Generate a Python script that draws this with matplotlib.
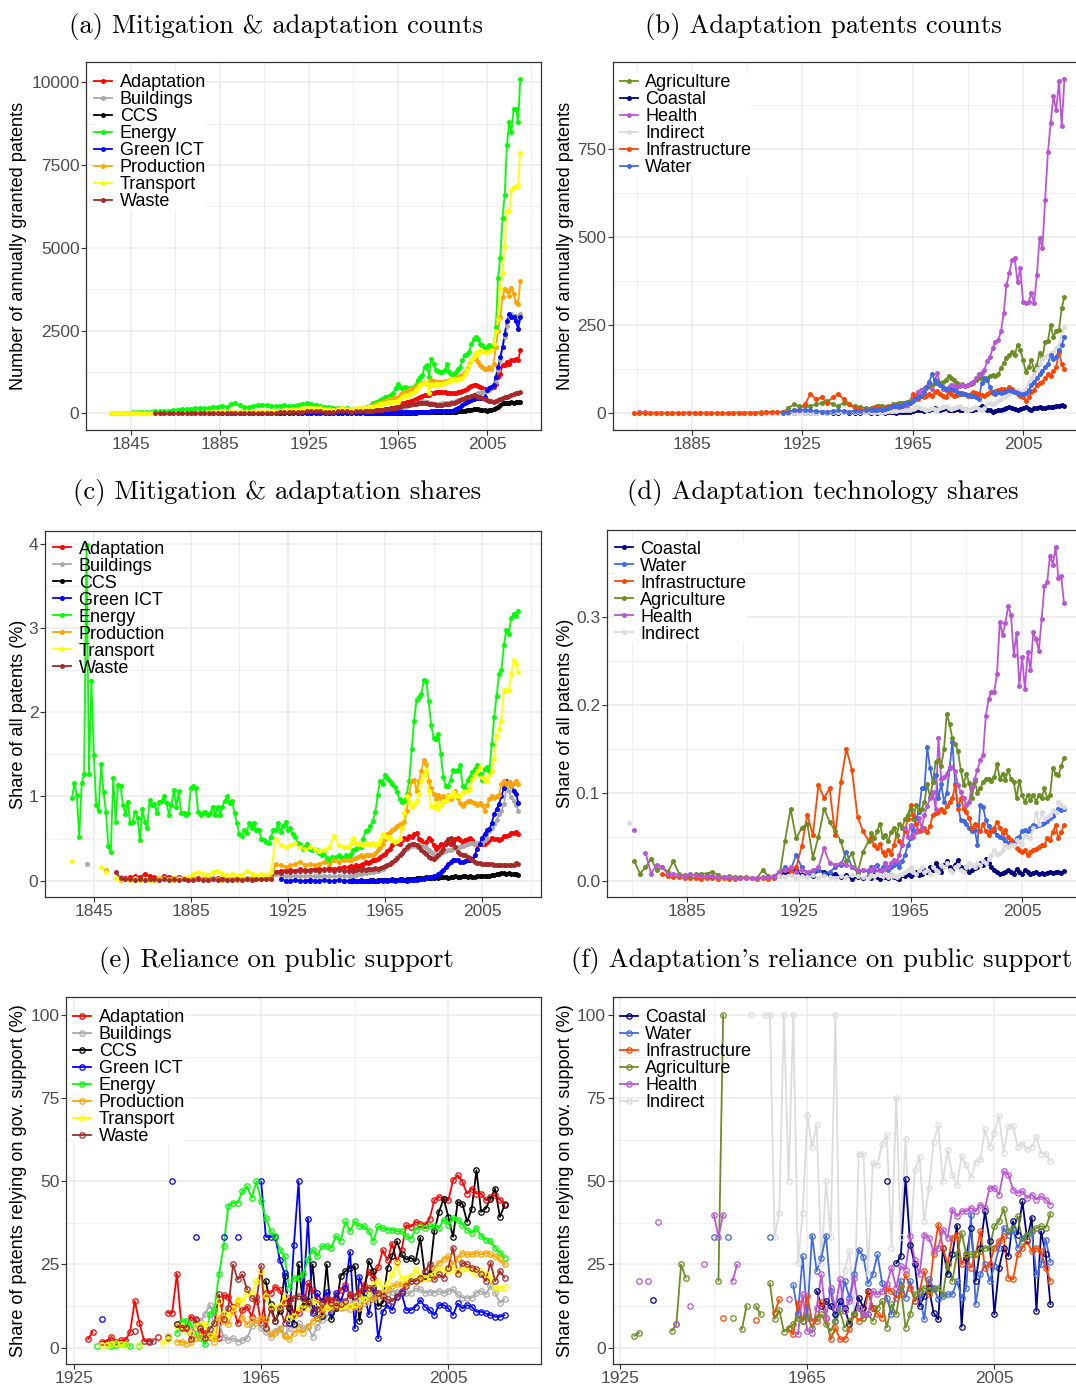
import numpy as np
import matplotlib
matplotlib.use("Agg")
import matplotlib.pyplot as plt
from matplotlib.lines import Line2D

nan = np.nan
plt.rcParams['font.family'] = ['Liberation Sans', 'DejaVu Sans']

# ---------------- year grids ----------------
YEARS_EARLY_2Y = list(range(1836, 1950, 2))   # 1836..1948 every 2 years
YEARS_EARLY_1Y = list(range(1836, 1950))      # 1836..1949 yearly
YEARS_EARLY_B = list(range(1864, 1950, 2))    # 1864..1948 every 2 years
YEARS_LATE = list(range(1950, 2021))          # 1950..2020 yearly
YEARS_SUPPORT = list(range(1928, 2018))       # 1928..2017 yearly

# ---------------- colours ----------------
COL = {
    "Adaptation": "#FF0000", "Buildings": "#A9A9A9", "CCS": "#000000",
    "Energy": "#00FF00", "Green ICT": "#0000FF", "Production": "#FFA500",
    "Transport": "#FFFF00", "Waste": "#A52A2A",
    "Agriculture": "#6B8E23", "Coastal": "#000080", "Health": "#BA55D3",
    "Indirect": "#DCDCDC", "Infrastructure": "#FF4500", "Water": "#4169E1",
}

# ================= (a) counts =================
A_ADAPT_E = [3,3,4,4,5,5,6,6,7,8, 8,9,10,10,11,12,12,13,14,15, 15,16,17,18,18,20,20,22,25,30,
             35,40,45,50,50,55,50,45,40,40, 45,50,50,45,40,45]
A_ADAPT_L = [50,55,60,65,70,80,90,100,110,120, 130,140,150,170,190,200,260,300,320,340,
             350,380,400,420,450,500,520,550,560,560, 600,620,650,640,650,650,640,620,600,600,
             600,610,630,650,680,700,740,800,820,850, 850,830,800,750,720,700,720,750,800,900,
             1100,1200,1450,1450,1550,1500,1600,1600,1650,1600, 1900]
A_BUILD_E = [2,2,3,3,4,4,5,5,6,6, 7,7,8,8,9,10,10,11,12,12, 13,14,15,16,17,18,20,22,24,26,
             30,35,40,40,45,45,40,35,35,35, 40,45,45,40,35,40,45]
A_BUILD_L = [45,50,55,60,65,70,75,80,85,90, 95,100,110,120,130,140,160,180,200,220,
             240,260,280,300,320,340,360,350,330,300, 300,290,280,280,290,300,300,310,320,330,
             350,370,390,400,420,450,480,500,520,550, 580,600,620,640,660,680,700,750,850,950,
             1300,1600,2000,2300,2650,2950,3000,2950,2950,2950, 3000]
A_CCS_E = [1,1,1,1,1,1,2,2,2,2, 2,2,3,3,3,3,3,4,4,4, 4,5,5,5,5,6,6,6,6,7, 7,7,8,8,8]
A_CCS_L = [8,9,9,10,10,11,11,12,12,13, 13,14,14,15,15,16,17,18,19,20,
           21,22,23,24,25,26,27,28,29,30, 31,32,33,34,35,36,38,40,42,45,
           48,50,55,60,70,80,90,100,110,120, 130,120,110,100,90,80,90,110,130,150,
           200,250,300,320,300,310,330,320,330,340, 350]
A_ENERGY_E = [5,8,10,15,20,25,30,35,40,50, 55,60,70,80,100,110,120,130,140,150,
              150,160,170,180,200,220,200,280,300,250, 200,180,220,250,260,240,230,220,230,240,
              220,230,260,280,300,280,250,220,200,180, 170,160,150,160,140,120,130]
A_ENERGY_L = [150,180,200,250,300,330,350,400,420,480, 500,520,560,620,750,880,800,760,780,750,
              720,760,800,850,1000,1100,1150,1400,1450,1100, 1650,1500,1300,1280,1250,1250,1300,1500,1250,1200,
              1200,1250,1350,1400,1600,1750,1800,1850,2100,2250, 2300,2250,2100,2050,1950,2000,2050,2000,2100,2600,
              4100,4700,5900,6600,8100,8800,8500,9200,9200,8800, 10100]
A_GICT_E = [2,3,3,4,4,5,5,5,6,6,7,8,9,10,10]
A_GICT_L = [10,11,12,13,14,15,16,17,18,19, 20,21,22,24,25,26,28,30,32,34,
            36,38,40,42,44,46,48,50,52,54, 56,58,60,62,64,66,70,75,80,85,
            100,120,150,200,250,300,350,380,400,430, 450,460,450,470,500,700,750,780,850,1100,
            1400,1700,2000,2400,2800,3000,2900,2900,2800,2550, 2900]
A_PROD_E = [2,2,3,3,4,5,5,6,7,8, 8,9,10,10,12,12,14,15,15,16, 18,20,20,22,22,25,25,28,30,30,
            32,35,35,38,40,40,45,50,55,60, 80,90,95,100,110,115,120,110,100,100, 110,120,125,130,120,130,150]
A_PROD_L = [160,180,200,220,250,270,300,320,350,380, 400,420,440,450,460,470,540,600,640,680,
            700,740,760,800,850,900,920,950,930,900, 1000,980,950,940,950,950,970,990,1000,1020,
            1050,1080,1100,1120,1150,1250,1350,1500,1600,1700, 1650,1550,1450,1400,1350,1350,1400,1350,1500,2000,
            2500,2900,3500,3750,3700,3550,3800,3600,3350,3300, 4000]
A_TRANS_E = [2,2,3,3,4,5,5,6,6,8, 8,10,10,12,12,14,15,16,18,20, 22,24,25,28,30,32,35,38,40,42,
             45,48,50,55,60,65,70,75,80,90, 110,140,130,160,150,160,170,150,130,120, 110,130,150,140,130,150,160]
A_TRANS_L = [160,170,180,190,200,220,250,270,290,310, 320,330,340,350,360,350,420,500,550,520,
             560,600,650,700,750,850,880,950,900,600, 900,850,880,900,880,900,920,950,980,1000,
             1050,1020,1040,1050,1080,1200,1300,1450,1600,1700, 1850,1800,1900,1880,1850,1850,1880,1900,2100,2500,
             2850,3800,4250,5050,6100,6100,6750,6850,6850,6900, 7850]
A_WASTE_E = [2,2,3,3,4,4,5,5,6,6, 7,7,8,8,9,10,10,11,12,12, 13,14,15,16,17,18,20,22,25,28,
             32,38,45,50,55,60,60,55,50,50, 50,55,60,55,50,55,60]
A_WASTE_L = [65,70,75,80,85,90,95,100,110,120, 130,140,150,160,170,180,200,220,240,250,
             260,270,280,290,300,310,320,310,300,290, 280,270,260,250,250,260,270,280,290,300,
             320,350,380,400,420,450,480,500,520,550, 520,500,480,450,430,400,380,360,350,380,
             400,420,450,480,500,520,550,580,600,620, 650]

# ================= (b) adaptation counts =================
B_AGRI_E = [2,2,2,1,1,1,2,1,1,2, 1,1,1,2,1,1,1,2,2,2, 2,2,3,3,3,3,3,15,25,20,
            22,20,25,30,35,25,20,30,25,20, 18,15]
B_AGRI_L = [15,18,20,22,20,18,20,22,25,25, 28,30,30,32,35,40,50,60,65,70,
            72,78,80,85,88,85,90,95,105,100, 95,85,80,82,78,80,82,85,95,100,
            100,95,100,105,109,105,110,128,142,156, 165,175,165,194,180,151,118,132,151,123,
            137,170,156,203,205,250,215,234,235,298, 331]
B_COAST_E = [1,2,3,2,1,2,3,2,1,2,3,2,1,2,3]
B_COAST_L = [2,3,2,4,3,2,3,4,3,2, 3,4,5,4,5,6,8,10,8,6, 8,10,12,15,10,8,12,15,10,8,
             10,12,8,10,12,10,8,10,12,15, 20,15,10,8,5,6,8,10,12,15, 18,15,12,10,12,15,18,12,10,15,
             15,18,16,15,17,18,19,20,22,24, 22]
B_HEALTH_E = [5,3,2,2,2,1,1,1,2,2, 2,2,1,1,1,1,1,1,1,1, 1,1,1,2,2,2,3,3,3,3,
              3,3,4,4,4,5,5,5,5,5, 5,5]
B_HEALTH_L = [5,5,6,6,7,8,8,9,10,10, 10,12,15,20,30,40,50,60,65,70,
              75,85,70,95,113,80,70,65,75,80, 80,75,78,80,78,80,85,90,100,110,
              115,123,147,161,184,203,208,232,284,364, 397,435,440,371,411,317,312,317,340,312,
              392,498,468,605,740,823,899,860,941,815, 948]
B_INDIR_E = [2,1,1,1,1,1,1,1,1,1, 1,1,1,1,1,1,1,1,1,1, 1,1,1,1,1,1,1,2,2,2,
             2,2,2,2,2,2,3,3,3,3, 3,3,3]
B_INDIR_L = [3,3,4,4,5,5,6,6,7,7, 8,8,9,10,10,12,15,18,15,12, 10,12,15,12,10,15,18,20,15,12,
             15,18,20,15,12,10,12,15,18,12, 10,15,25,30,25,30,35,40,45,50,
             55,60,62,65,60,62,70,85,100,110, 125,140,155,160,165,170,175,185,195,220, 245]
B_INFRA_E = [1,1,1,1,1,1,1,1,1,1, 1,1,1,1,1,1,1,1,2,2, 2,2,2,2,3,3,3,3,5,8,
             10,25,55,40,45,30,45,55,40,25, 15,12,10]
B_INFRA_L = [12,15,18,15,12,15,18,20,22,20, 18,22,25,28,30,55,45,40,50,45,
             48,55,50,60,62,55,50,45,60,55, 50,52,55,58,55,50,55,60,58,55,
             52,50,55,60,58,62,65,70,68,65, 75,70,60,55,50,45,35,45,60,65,
             80,85,90,100,110,105,120,130,175,140, 125]
B_WATER_E = [2,5,8,10,10,8,6,5,5,6,8,6,5,6,7,8]
B_WATER_L = [8,10,10,12,10,12,15,18,20,22, 20,22,25,28,30,35,40,45,50,60,
             75,90,110,95,85,80,75,70,70,70, 65,60,58,55,55,52,50,48,45,40,
             85,100,95,75,60,55,60,58,60,62, 65,62,60,58,55,55,58,65,80,90,
             100,110,120,130,140,165,155,160,180,195, 215]

# ================= (c) shares =================
C_ADAPT_E = [0.03,0.04,0.05,0.04,0.08,0.05,0.04,0.03,0.05,0.04, 0.03,0.04,0.03,0.02,0.03,0.03,0.02,0.03,0.02,0.03,
             0.02,0.03,0.02,0.03,0.02,0.02,0.03,0.02,0.02,0.03, 0.03,0.10,0.12,0.12,0.13,0.12,0.14,0.12,0.13,0.14,
             0.14,0.13,0.15,0.14,0.15,0.16]
C_ADAPT_L = [0.16,0.17,0.16,0.18,0.17,0.18,0.20,0.22,0.21,0.22, 0.24,0.24,0.26,0.28,0.30,0.32,0.35,0.38,0.42,0.46,
             0.45,0.43,0.48,0.51,0.50,0.53,0.52,0.55,0.57,0.50, 0.48,0.44,0.46,0.51,0.48,0.42,0.38,0.40,0.44,0.42,
             0.46,0.48,0.44,0.46,0.50,0.51,0.48,0.44,0.48,0.50, 0.51,0.48,0.44,0.42,0.44,0.43,0.44,0.46,0.48,0.51,
             0.50,0.49,0.48,0.50,0.53,0.53,0.54,0.57,0.57,0.58, 0.56]
C_BUILD_E = [nan,nan,nan,0.20,nan,nan,nan,nan,nan,nan, 0.04,0.02,0.02,0.03,0.02,0.02,0.01,0.02,0.02,0.03,
             0.02,0.02,0.03,0.02,0.02,0.03,0.02,0.02,0.02,0.03, 0.02,0.02,0.03,0.02,0.02,0.02,0.03,0.02,0.02,0.02,
             0.02,0.02,0.08,0.06,0.05,0.06,0.05,0.06,0.05,0.06, 0.05,0.06,0.05,0.06,0.05,0.06,0.06]
C_BUILD_L = [0.06,0.06,0.07,0.07,0.08,0.08,0.09,0.09,0.10,0.10, 0.10,0.11,0.12,0.13,0.14,0.16,0.18,0.20,0.22,0.25,
             0.28,0.30,0.33,0.36,0.38,0.40,0.41,0.42,0.40,0.42, 0.42,0.41,0.40,0.37,0.34,0.32,0.31,0.32,0.33,0.34,
             0.35,0.36,0.37,0.38,0.39,0.40,0.40,0.41,0.42,0.44, 0.45,0.45,0.44,0.45,0.44,0.45,0.48,0.51,0.59,0.63,
             0.67,0.72,0.79,0.83,0.91,1.10,1.07,0.99,0.95,0.90, 0.83]
C_CCS_E = [0.0,nan,nan,nan,nan,nan,nan,0.0]
C_CCS_L = [nan,nan,0.00,nan,nan,0.00,nan,0.00,0.00,0.00, 0.01,0.00,0.01,0.01,0.01,0.01,0.01,0.01,0.02,0.01,
           0.01,0.02,0.02,0.01,0.02,0.02,0.02,0.02,0.03,0.03, 0.03,0.03,0.04,0.03,0.03,0.03,0.04,0.03,0.04,0.04,
           0.04,0.03,0.04,0.04,0.05,0.04,0.04,0.05,0.05,0.04, 0.05,0.04,0.04,0.05,0.05,0.06,0.06,0.05,0.06,0.07,
           0.07,0.08,0.08,0.09,0.09,0.08,0.09,0.08,0.08,0.08, 0.07]
C_GICT_E = [0.02,0.00,0.00,0.01,0.00,0.00,0.01,0.00,0.00,0.01,0.00,0.00,0.01,0.00]
C_GICT_L = [0.00,0.00,0.01,0.00,0.00,0.01,0.00,0.00,0.00,0.01, 0.00,0.00,0.00,0.01,0.00,0.01,0.00,0.01,0.01,0.00,
            0.01,0.01,0.01,0.01,0.00,0.01,0.01,0.01,0.01,0.02, 0.02,0.02,0.03,0.04,0.04,0.06,0.06,0.08,0.10,0.13,
            0.16,0.20,0.22,0.24,0.25,0.24,0.22,0.22,0.23,0.24, 0.24,0.26,0.30,0.38,0.44,0.51,0.55,0.60,0.61,0.69,
            0.79,0.85,0.91,1.01,1.10,1.19,1.17,1.13,1.07,1.03, 0.92]
C_ENERGY_E = [0.98,1.16,1.02,0.52,1.16,1.27,3.99,1.27,2.37,1.49, 0.90,0.83,1.39,1.05,0.82,0.41,0.34,1.22,0.70,1.14,
              1.13,0.90,0.79,0.94,0.68,0.70,0.82,0.75,0.48,0.85, 0.70,0.62,0.96,0.90,0.91,0.80,0.93,0.95,1.00,0.92,
              0.78,0.90,1.08,0.88,1.06,0.80,0.80,0.78,0.80,1.10, 1.13,1.10,0.82,0.78,0.80,0.82,0.78,0.80,0.88,0.78,
              0.88,0.78,0.88,0.95,1.00,0.92,0.95,0.80,0.68,0.55, 0.53,0.60,0.57,0.68,0.63,0.68,0.60,0.60,0.50,0.48,
              0.46,0.45,0.52,0.60,0.60,0.68,0.58,0.65,0.70,0.60, 0.62,0.55,0.52,0.45,0.43,0.38,0.40,0.44,0.38,0.36,
              0.38,0.36,0.33,0.30,0.35,0.27,0.22,0.28,0.25,0.28, 0.30,0.28,0.27,0.30]
C_ENERGY_L = [0.28,0.32,0.36,0.38,0.42,0.40,0.50,0.59,0.60,0.65, 0.71,0.81,1.02,1.19,1.15,1.25,1.22,1.19,1.15,1.11,
              1.05,0.97,0.93,0.95,1.03,1.19,1.56,1.90,2.15,2.18, 2.22,2.38,2.37,2.14,1.85,1.70,1.68,1.74,1.50,1.23,
              1.13,1.13,1.20,1.31,1.30,1.31,1.37,1.13,1.09,1.20, 1.23,1.29,1.33,1.37,1.27,1.20,1.33,1.35,1.30,1.62,
              1.94,2.20,2.45,2.50,2.80,2.98,2.93,3.12,3.17,3.15, 3.20]
C_PROD_E = [nan,nan,nan,nan,nan,nan,nan,0.13,nan,nan, 0.01,0.02,0.01,0.02,0.01,0.02,0.02,0.01,0.02,0.02,
            0.02,0.01,0.02,0.02,0.01,0.02,0.02,0.02,0.01,0.02, 0.02,0.01,0.02,0.02,0.01,0.02,0.02,0.01,0.02,0.02,
            0.02,0.03,0.20,0.18,0.16,0.18,0.20,0.22,0.18,0.20, 0.18,0.20,0.22,0.20,0.24,0.22,0.24]
C_PROD_L = [0.24,0.25,0.26,0.27,0.28,0.30,0.28,0.30,0.30,0.30, 0.30,0.33,0.36,0.40,0.44,0.50,0.55,0.58,0.60,0.63,
            0.65,0.67,0.62,0.70,0.83,1.03,1.19,1.20,1.07,1.18, 1.30,1.43,1.39,1.19,1.10,1.03,0.97,1.02,0.97,1.00,
            0.95,1.02,0.97,1.00,1.07,0.98,0.92,0.89,0.92,0.95, 0.95,0.93,0.92,0.90,0.92,0.90,0.83,0.90,0.97,1.00,
            0.98,1.00,1.02,1.15,1.19,1.15,1.17,1.13,1.16,1.18, 1.15]
C_TRANS_E = [0.23,nan,nan,nan,nan,nan,0.16,0.10,nan,0.03, 0.02,0.02,0.01,0.02,0.01,0.02,0.01,0.02,0.03,0.02,
             0.02,0.03,0.02,0.03,0.04,0.08,0.10,0.08,0.07,0.10, 0.12,0.08,0.07,0.08,0.06,0.07,0.12,0.08,0.06,0.08,
             0.07,0.10,0.50,0.42,0.40,0.42,0.45,0.40,0.38,0.40, 0.38,0.35,0.36,0.40,0.53,0.42,0.40]
C_TRANS_L = [0.40,0.45,0.51,0.45,0.44,0.44,0.42,0.45,0.43,0.44, 0.45,0.42,0.44,0.48,0.55,0.53,0.52,0.51,0.48,0.46,
             0.47,0.50,0.63,0.80,1.01,0.95,0.87,0.91,0.95,1.03, 1.19,1.25,1.31,1.07,0.89,0.87,0.92,0.85,0.90,0.95,
             0.95,1.01,1.01,1.05,1.00,1.02,1.00,1.05,1.07,1.07, 1.10,1.21,1.25,1.30,1.35,1.23,1.20,1.19,1.25,1.30,
             1.44,1.72,1.80,1.90,2.26,2.25,2.26,2.45,2.62,2.58, 2.48]
C_WASTE_E = [nan,nan,nan,nan,nan,nan,nan,nan,nan,0.10, 0.03,0.02,0.02,0.01,0.02,0.01,0.02,0.02,0.01,0.02,
             0.01,0.02,0.01,0.02,0.01,0.01,0.02,0.01,0.01,0.02, 0.01,0.02,0.01,0.01,0.02,0.01,0.02,0.01,0.02,0.02,
             0.02,0.02,0.10,0.09,0.11,0.10,0.12,0.12,0.13,0.12, 0.13,0.12,0.14,0.13,0.12,0.13,0.12]
C_WASTE_L = [0.12,0.13,0.12,0.13,0.14,0.13,0.14,0.13,0.14,0.14, 0.14,0.15,0.14,0.15,0.16,0.17,0.18,0.20,0.22,0.25,
             0.27,0.30,0.33,0.36,0.40,0.42,0.43,0.44,0.42,0.40, 0.37,0.34,0.32,0.28,0.27,0.26,0.28,0.30,0.34,0.38,
             0.44,0.50,0.51,0.45,0.40,0.34,0.32,0.31,0.30,0.28, 0.27,0.24,0.22,0.21,0.21,0.20,0.20,0.20,0.20,0.20,
             0.19,0.19,0.19,0.18,0.19,0.18,0.18,0.18,0.19,0.21, 0.20]

# ================= (d) adaptation shares =================
D_AGRI_E = [0.022,0.008,0.015,0.025,0.012,0.015,0.010,0.022,0.008,0.006,
            0.005,0.007,0.008,0.008,0.010,0.006,0.004,0.005,0.004,0.004,
            0.003,0.003,0.003,0.012,0.005,0.004,0.005,0.045,0.082,0.048,
            0.060,0.065,0.026,0.050,0.082,0.067,0.056,0.045,0.022,0.031, 0.009,0.033]
D_AGRI_L = [0.045,0.054,0.048,0.056,0.065,0.050,0.052,0.045,0.055,0.060,
            0.052,0.065,0.060,0.070,0.075,0.082,0.070,0.086,0.080,0.082,
            0.090,0.110,0.095,0.112,0.135,0.137,0.130,0.150,0.190,0.178,
            0.162,0.156,0.148,0.126,0.109,0.122,0.111,0.094,0.114,0.100,
            0.105,0.112,0.116,0.116,0.114,0.118,0.133,0.116,0.122,0.115,
            0.126,0.116,0.112,0.094,0.114,0.097,0.090,0.097,0.092,0.097,
            0.090,0.097,0.094,0.105,0.094,0.097,0.128,0.122,0.120,0.130, 0.140]
D_COAST_E = [0.005,0.010,0.008,0.012,0.006,0.008,0.005,0.012,0.010,0.006,0.008,0.004,0.006,0.002,0.004,0.003]
D_COAST_L = [0.005,0.003,0.006,0.004,0.002,0.005,0.004,0.003,0.006,0.004,
             0.003,0.002,0.006,0.005,0.007,0.005,0.008,0.010,0.006,0.008,
             0.012,0.010,0.015,0.012,0.020,0.015,0.010,0.018,0.022,0.015,
             0.012,0.018,0.024,0.015,0.012,0.016,0.010,0.012,0.014,0.016,
             0.020,0.018,0.025,0.020,0.015,0.012,0.010,0.008,0.009,0.010,
             0.012,0.010,0.008,0.013,0.010,0.008,0.012,0.010,0.008,0.009,
             0.010,0.008,0.009,0.008,0.009,0.010,0.009,0.010,0.010,0.009, 0.011]
D_HEALTH_E = [0.058,nan,0.032,0.008,0.018,0.015,0.008,0.008,0.006,0.005,
              0.008,0.006,0.005,0.005,0.005,0.004,0.004,0.004,0.003,0.003,
              0.003,0.003,0.003,0.004,0.004,0.005,0.010,0.012,0.015,0.010,
              0.012,0.010,0.012,0.015,0.037,0.020,0.018,0.020,0.018,0.015, 0.012,0.012]
D_HEALTH_L = [0.012,0.012,0.015,0.010,0.012,0.012,0.020,0.015,0.020,0.024,
              0.022,0.029,0.041,0.060,0.050,0.063,0.050,0.055,0.071,0.060,
              0.075,0.085,0.094,0.101,0.082,0.162,0.116,0.118,0.122,0.129,
              0.129,0.125,0.109,0.101,0.094,0.086,0.090,0.107,0.116,0.126,
              0.137,0.143,0.188,0.207,0.215,0.215,0.235,0.295,0.280,0.293,
              0.313,0.303,0.257,0.282,0.222,0.255,0.218,0.260,0.240,0.283,
              0.275,0.262,0.298,0.335,0.340,0.370,0.360,0.380,0.345,0.347, 0.316]
D_INDIR_E = [0.066,nan,nan,nan,nan,nan,nan,nan,nan,nan,
             nan,nan,nan,nan,nan,nan,nan,nan,nan,nan,
             nan,nan,nan,nan,nan,nan,nan,0.005,0.004,0.006,
             0.003,0.005,0.004,0.006,0.003,0.005,0.004,0.003,0.005,0.004, 0.006,0.005,0.004]
D_INDIR_L = [0.004,0.006,0.005,0.008,0.006,0.005,0.007,0.004,0.006,0.005,
             0.004,0.006,0.008,0.010,0.012,0.015,0.010,0.008,0.012,0.015,
             0.010,0.012,0.008,0.015,0.012,0.010,0.018,0.015,0.020,0.012,
             0.010,0.015,0.018,0.012,0.010,0.015,0.020,0.018,0.015,0.020,
             0.018,0.022,0.020,0.025,0.029,0.035,0.030,0.032,0.035,0.041,
             0.038,0.041,0.040,0.046,0.044,0.042,0.052,0.050,0.048,0.060,
             0.077,0.065,0.078,0.070,0.072,0.075,0.080,0.078,0.090,0.086, 0.084]
D_INFRA_E = [0.008,0.005,0.004,0.004,0.003,0.003,0.003,0.002,0.003,0.003,
             0.002,0.003,0.002,0.002,0.003,0.004,0.003,0.002,0.003,0.002,
             0.003,0.008,0.012,0.010,0.015,0.039,0.075,0.052,0.109,0.094,
             0.105,0.052,0.112,0.150,0.126,0.073,0.056]
D_INFRA_L = [0.045,0.048,0.040,0.037,0.042,0.033,0.029,0.035,0.030,0.040,
             0.052,0.045,0.040,0.056,0.070,0.086,0.075,0.065,0.056,0.058,
             0.060,0.055,0.062,0.075,0.077,0.078,0.082,0.078,0.085,0.090,
             0.094,0.109,0.082,0.094,0.082,0.078,0.071,0.060,0.064,0.063,
             0.056,0.064,0.056,0.052,0.056,0.060,0.067,0.060,0.054,0.058,
             0.050,0.046,0.041,0.037,0.035,0.033,0.035,0.029,0.033,0.035,
             0.036,0.038,0.041,0.040,0.048,0.046,0.055,0.063,0.048,0.055, 0.063]
D_WATER_E = [0.005,0.010,0.015,0.012,0.029,0.015,0.008,0.010,0.012,0.008,0.010,0.015,0.018,0.033,0.015,0.010,0.012]
D_WATER_L = [0.010,0.015,0.012,0.018,0.010,0.015,0.020,0.012,0.015,0.018,
             0.020,0.015,0.022,0.029,0.040,0.048,0.058,0.071,0.078,0.105,
             0.105,0.152,0.128,0.112,0.120,0.094,0.110,0.090,0.100,0.128,
             0.158,0.110,0.086,0.069,0.068,0.065,0.060,0.056,0.058,0.041,
             0.086,0.084,0.069,0.062,0.058,0.056,0.052,0.050,0.048,0.045,
             0.043,0.042,0.044,0.048,0.050,0.056,0.058,0.057,0.060,0.063,
             0.062,0.063,0.064,0.066,0.068,0.071,0.074,0.078,0.082,0.080, 0.082]

# ================= (e) reliance on public support (1928-2017) =================
E_ADAPT = [2.5,4.8,nan,1.8,1.8,3.2,1.8,2.2,2.2,4.7, 14.0,7.5,2.0,2.0,nan,3.2,nan,10.5,10.5,22.2,
           6.3,6.3,9.3,8.3,5.3,4.5,3.3,2.8,3.0,15.8, 15.3,12.3,7.3,11.3,12.3,9.3,15.3,7.3,16.3,16.3,
           18.3,17.3,13.3,14.8,10.3,10.3,12.3,19.3,17.3,14.8, 11.3,14.3,14.3,15.3,17.3,18.8,15.8,13.8,16.3,18.8,
           22.8,20.8,24.3,29.3,26.3,31.3,25.8,29.3,36.8,36.3, 37.8,37.3,36.8,38.8,44.3,45.3,44.8,44.3,50.3,51.8,
           49.8,46.3,47.8,46.3,46.3,44.3,45.3,45.8,44.5,43.3]
E_BUILD = [5.0,6.0,8.0,10.0,12.8,9.3,7.3,3.3,2.3,2.8, 1.8,2.3,2.8,6.5,8.3,6.0,4.8,3.3,5.0,6.0,
           3.8,5.8,6.8,7.3,5.8,6.3,3.3,6.3,8.3,9.3, 11.3,11.8,12.3,12.3,13.3,13.8,14.3,14.8,14.8,15.3,
           16.3,16.8,16.3,16.8,16.8,16.8,16.3,16.5,17.8,17.5, 16.5,16.8,16.5,17.0,16.5,17.0,17.5,16.0,15.0,15.0,
           15.0,16.5,17.0,16.0,18.5,16.5,13.5,14.5]
E_CCS = [3.0,nan,7.0, nan,nan,nan,nan,nan,nan,nan,nan,nan,nan,
         nan,nan,nan,nan,nan,nan,nan,nan,20.0,13.0,
         8.0,11.0,21.5,12.0,7.2,25.0,12.5,14.0,25.0,9.0, 9.5,25.0,8.5,12.0,21.5,23.0,24.0,24.5,8.0,16.5,
         26.0,23.0,12.5,13.5,24.0,27.5,32.0,28.0,26.5,27.0, 26.0,33.0,21.5,22.0,35.0,40.8,44.8,39.3,33.3,43.8,
         43.3,37.8,41.8,53.3,40.8,41.8,44.8,47.8,39.3,42.8]
E_GICT = [nan,nan,nan,8.5,nan,nan,nan,nan,nan,nan, nan,nan,nan,nan,nan,nan,nan,nan,50.0,nan,
          nan,nan,nan,33.3,nan,nan,nan,nan,nan,33.3, nan,nan,33.3,nan,nan,nan,nan,50.0,33.3,33.3,
          33.3,26.3,22.5,7.3,30.8,50.0,15.3,38.8,10.3,16.3, 14.0,16.7,10.5,16.5,14.0,18.0,28.8,5.8,21.3,16.3,
          10.0,18.0,2.8,10.8,12.8,11.3,15.3,16.3,11.3,11.3, 12.3,14.3,12.3,11.3,9.8,12.8,12.8,11.8,9.8,13.3,
          11.8,12.8,12.3,10.8,10.8,10.3,9.8,9.3,9.3,9.8]
E_ENERGY = [nan,nan,0.5,nan,0.8,0.5,0.8,1.0,1.0,0.5, nan,0.5,nan,nan,nan,nan,nan,nan,nan,4.5,
            8.0,8.0,7.0,4.0,3.0,1.0,10.0,11.3,22.0,30.5, 42.5,43.5,43.5,47.0,48.5,45.0,50.0,44.0,39.0,35.0,
            33.5,29.5,27.5,18.0,21.0,21.0,22.0,26.5,29.5,27.5, 30.5,30.5,30.0,33.5,32.0,38.0,35.0,38.0,36.5,36.5,
            35.0,32.0,36.5,36.0,35.5,35.5,35.0,35.0,33.5,32.8, 35.5,36.5,36.0,36.5,36.5,36.0,38.5,37.0,39.0,38.5,
            37.0,35.5,34.5,36.0,33.5,32.5,32.0,30.0,28.5,27.0]
E_PROD = [3.5,nan,1.8, 1.8,1.2,1.8,3.0,3.5,3.0,4.0,1.8,9.0,8.0,
          7.0,11.0,14.0,9.0,7.0,8.5,7.5,9.0,8.5,4.0, 4.5,5.5,3.5,2.5,4.5,5.5,4.5,6.5,8.0,9.0,
          10.5,12.5,12.0,12.5,12.0,13.0,11.5,12.5,12.0,13.5, 14.0,14.5,15.5,16.5,17.5,18.5,19.0,19.0,19.5,20.0,
          20.0,20.5,21.0,21.0,24.0,25.5,26.5,27.5,25.0,27.0, 28.5,28.0,28.0,28.5,28.0,28.5,28.0,27.5,26.5,25.0]
E_TRANS = [nan,nan,nan,0.8,0.8,1.0,1.5,1.2,0.8,nan, nan,0.8,nan,nan,nan,nan,1.5,2.5,nan,6.5,
           6.5,5.0,4.5,6.5,7.0,7.0,3.5,3.0,14.0,10.5, 9.5,12.0,14.5,14.0,16.5,16.0,20.0,23.0,15.5,12.5,
           12.0,12.5,15.5,9.0,9.5,12.0,13.0,12.0,14.0,13.5, 12.5,12.0,12.5,13.0,12.5,13.0,12.5,13.0,15.5,14.5,
           16.5,19.0,20.0,18.0,19.5,22.0,25.5,20.5,21.0,21.5, 23.5,21.5,21.0,21.5,22.0,23.5,23.5,23.0,23.5,23.0,
           23.5,24.0,23.0,22.5,23.0,22.0,20.5,18.0,18.0,18.2]
E_WASTE = [5.0,nan,nan,1.8,2.0,nan,nan,nan,nan,7.0, 6.0,6.0,2.5,8.5,6.0,3.0,5.5,7.5,16.0,8.5,
           12.0,25.0,20.5,22.0,17.5,15.0,14.0,24.5,6.0,11.5, 8.0,12.0,7.5,12.5,15.0,15.5,15.0,13.5,11.0,11.5,
           13.5,15.0,13.5,12.5,13.0,14.0,16.0,15.5,17.0,17.5, 18.0,17.5,16.5,15.5,14.5,14.0,15.5,17.0,18.5,20.0,
           20.0,21.0,23.0,25.0,20.5,22.0,21.0,24.0,30.0,22.0, 25.5,25.0,24.0,23.5,22.0,20.0,25.5,20.0,23.0,21.0]

# ================= (f) adaptation reliance (1928-2017) =================
F_COAST = [nan,nan,nan,nan,14.3,nan,nan,nan,nan,nan, nan,nan,nan,nan,nan,nan,nan,nan,nan,nan,
           nan,nan,nan,nan,nan,nan,nan,nan,nan,nan, nan,nan,nan,nan,nan,nan,nan,nan,nan,17.0,
           12.5,14.0,12.5,10.0,14.0,12.0,7.0,10.0,15.0,12.0, 17.0,12.0,nan,nan,50.0,nan,25.3,27.5,50.7,31.0,
           25.0,12.5,15.5,18.0,10.5,8.5,30.0,22.0,28.0,36.7, 6.3,27.0,36.0,20.0,30.0,41.0,32.0,10.0,24.0,30.0,
           27.5,38.0,34.0,44.0,32.5,39.0,11.0,35.0,28.0,13.0]
F_WATER = [nan,nan,nan,nan,nan,nan,nan,nan,nan,nan, nan,nan,nan,nan,nan,nan,nan,33.4,nan,nan,
           33.4,nan,nan,nan,nan,nan,nan,nan,nan,33.4, nan,nan,nan,nan,18.8,10.0,27.5,9.0,33.7,23.0,
           27.0,33.7,17.0,8.0,12.0,20.0,15.0,22.0,29.5,27.3, 19.3,22.0,28.0,19.3,15.0,10.0,16.0,20.0,15.0,20.0,
           14.0,16.0,8.5,20.5,18.0,14.7,15.5,16.0,16.0,20.0, 15.0,18.0,40.0,13.0,22.0,25.0,20.0,24.5,30.0,36.0,
           34.0,35.5,30.0,33.0,34.0,35.0,22.0,25.0,32.5,25.7]
F_INFRA = [nan,nan,nan,nan,nan,nan,nan,nan,nan,nan, nan,nan,nan,nan,nan,nan,nan,nan,nan,9.0,
           nan,nan,nan,nan,nan,nan,8.2,nan,nan,nan, 10.5,14.5,nan,5.5,4.0,13.5,8.0,15.5,8.0,8.0,
           13.7,9.0,2.5,6.0,2.5,2.5,5.5,10.0,8.0,9.0, 16.7,12.0,10.0,9.0,18.0,17.0,15.0,16.0,22.0,18.0,
           14.0,17.0,23.0,16.0,28.0,37.0,30.0,25.0,33.0,34.0, 25.0,28.0,24.0,28.0,35.0,24.0,25.0,30.0,32.0,33.5,
           21.0,20.5,28.0,30.0,32.0,29.0,30.0,29.0,24.0,20.0]
F_AGRI = [3.5,4.5,nan,nan,nan,nan,nan,nan,5.0,7.0, 25.0,21.0,nan,nan,nan,nan,nan,nan,20.0,100.0,
          nan,9.0,nan,5.5,12.5,nan,12.5,10.0,nan,19.3, 8.7,11.3,4.8,6.0,7.0,9.0,8.0,9.5,6.0,9.0,
          10.0,7.0,5.0,8.0,11.0,6.0,8.0,10.0,12.0,9.0, 10.0,8.0,12.0,14.0,6.0,13.0,10.0,18.5,6.0,10.0,
          16.0,17.0,18.0,17.0,17.5,18.0,16.0,25.0,20.0,28.0, 34.5,28.0,28.0,28.5,29.0,30.0,30.0,36.5,38.0,41.7,
          35.0,36.0,39.5,32.0,34.0,35.0,36.0,36.5,36.0,40.3]
F_HEALTH = [nan,20.0,nan,20.0,nan,37.7,nan,nan,nan,7.0, nan,nan,12.5,nan,nan,25.0,nan,40.0,33.4,40.0,
            nan,20.0,25.0,nan,nan,nan,nan,nan,nan,nan, nan,nan,nan,14.5,nan,4.0,16.0,5.0,4.5,12.0,
            22.0,9.0,18.0,12.0,20.5,11.0,14.0,21.0,12.0,10.0, 10.0,17.0,16.0,17.0,19.0,24.0,18.0,24.5,23.4,33.5,
            26.4,22.0,34.0,33.0,29.0,30.0,35.5,33.0,41.5,39.5, 41.0,41.0,42.0,41.0,43.0,42.0,48.0,48.0,46.0,53.0,
            52.0,47.5,46.5,47.0,45.0,46.0,44.5,45.5,44.5,43.0]
F_INDIR = [100.0,nan,nan,100.0,100.0,33.4,40.4,100.0,50.0,100.0,
           25.4,40.4,70.0,60.3,66.8,25.4,50.0,33.4,100.0,12.0,
           23.4,29.0,10.0,58.3,58.3,22.4,55.5,54.8,61.3,63.8,
           30.0,75.0,33.4,62.8,31.0,53.3,57.3,38.0,47.9,61.8,
           66.8,50.0,59.3,52.0,48.9,57.6,54.8,51.1,55.8,56.6,
           65.6,60.2,64.6,69.5,58.6,66.6,66.6,60.3,61.3,59.6,
           60.3,63.3,58.3,58.3,56.0]


# ---------------- helpers ----------------
def joined(early_grid, early, late):
    grid = list(early_grid) + YEARS_LATE
    y = list(early) + list(late)
    y = y[-len(grid):]
    return grid[len(grid) - len(y):], y


def support(vals):
    return YEARS_SUPPORT[len(YEARS_SUPPORT) - len(vals):], list(vals)


S_A = [
    ("Adaptation",) + joined(YEARS_EARLY_2Y, A_ADAPT_E, A_ADAPT_L),
    ("Buildings",) + joined(YEARS_EARLY_2Y, A_BUILD_E, A_BUILD_L),
    ("CCS",) + joined(YEARS_EARLY_2Y, A_CCS_E, A_CCS_L),
    ("Energy",) + joined(YEARS_EARLY_2Y, A_ENERGY_E, A_ENERGY_L),
    ("Green ICT",) + joined(YEARS_EARLY_2Y, A_GICT_E, A_GICT_L),
    ("Production",) + joined(YEARS_EARLY_2Y, A_PROD_E, A_PROD_L),
    ("Transport",) + joined(YEARS_EARLY_2Y, A_TRANS_E, A_TRANS_L),
    ("Waste",) + joined(YEARS_EARLY_2Y, A_WASTE_E, A_WASTE_L),
]
S_B = [
    ("Agriculture",) + joined(YEARS_EARLY_B, B_AGRI_E, B_AGRI_L),
    ("Coastal",) + joined(YEARS_EARLY_B, B_COAST_E, B_COAST_L),
    ("Health",) + joined(YEARS_EARLY_B, B_HEALTH_E, B_HEALTH_L),
    ("Indirect",) + joined(YEARS_EARLY_B, B_INDIR_E, B_INDIR_L),
    ("Infrastructure",) + joined(YEARS_EARLY_B, B_INFRA_E, B_INFRA_L),
    ("Water",) + joined(YEARS_EARLY_B, B_WATER_E, B_WATER_L),
]
S_C = [
    ("Adaptation",) + joined(YEARS_EARLY_2Y, C_ADAPT_E, C_ADAPT_L),
    ("Buildings",) + joined(YEARS_EARLY_2Y, C_BUILD_E, C_BUILD_L),
    ("CCS",) + joined(YEARS_EARLY_2Y, C_CCS_E, C_CCS_L),
    ("Green ICT",) + joined(YEARS_EARLY_2Y, C_GICT_E, C_GICT_L),
    ("Energy",) + joined(YEARS_EARLY_1Y, C_ENERGY_E, C_ENERGY_L),
    ("Production",) + joined(YEARS_EARLY_2Y, C_PROD_E, C_PROD_L),
    ("Transport",) + joined(YEARS_EARLY_2Y, C_TRANS_E, C_TRANS_L),
    ("Waste",) + joined(YEARS_EARLY_2Y, C_WASTE_E, C_WASTE_L),
]
S_D = [
    ("Coastal",) + joined(YEARS_EARLY_B, D_COAST_E, D_COAST_L),
    ("Water",) + joined(YEARS_EARLY_B, D_WATER_E, D_WATER_L),
    ("Infrastructure",) + joined(YEARS_EARLY_B, D_INFRA_E, D_INFRA_L),
    ("Agriculture",) + joined(YEARS_EARLY_B, D_AGRI_E, D_AGRI_L),
    ("Health",) + joined(YEARS_EARLY_B, D_HEALTH_E, D_HEALTH_L),
    ("Indirect",) + joined(YEARS_EARLY_B, D_INDIR_E, D_INDIR_L),
]
S_E = [
    ("Adaptation",) + support(E_ADAPT),
    ("Buildings",) + support(E_BUILD),
    ("CCS",) + support(E_CCS),
    ("Green ICT",) + support(E_GICT),
    ("Energy",) + support(E_ENERGY),
    ("Production",) + support(E_PROD),
    ("Transport",) + support(E_TRANS),
    ("Waste",) + support(E_WASTE),
]
S_F = [
    ("Coastal",) + support(F_COAST),
    ("Water",) + support(F_WATER),
    ("Infrastructure",) + support(F_INFRA),
    ("Agriculture",) + support(F_AGRI),
    ("Health",) + support(F_HEALTH),
    ("Indirect",) + support(F_INDIR),
]

# ---------------- figure ----------------
W, H = 1076, 1385
fig = plt.figure(figsize=(W / 100, H / 100), dpi=100)
fig.patch.set_facecolor("white")
renderer = fig.canvas.get_renderer()

LW = 1.3
MS = 3.6
MS_H = 3.9

TICK_FS = 12.5
LEG_FS = 13


def fit_size(text, family, target_px, base=20.0):
    t = fig.text(0, 0, text, fontsize=base, family=family)
    w = t.get_window_extent(renderer=renderer).width
    t.remove()
    return base * target_px / w


TITLES = {
    "a": ("(a) Mitigation & adaptation counts", 276, 26, 415.7),
    "b": ("(b) Adaptation patents counts", 823, 26, 354.6),
    "c": ("(c) Mitigation & adaptation shares", 277, 493, 410.5),
    "d": ("(d) Adaptation technology shares", 823, 493, 390.5),
    "e": ("(e) Reliance on public support", 276, 961, 355.4),
    "f": ("(f) Adaptation's reliance on public support", 822, 961, 500.0),
}
title_fs = float(np.mean([fit_size(t, "cmr10", w) for (t, _, _, w) in TITLES.values()]))

YLABELS = {
    "a": ("Number of annually granted patents", 19),
    "b": ("Number of annually granted patents", 566),
    "c": ("Share of all patents (%)", 19),
    "d": ("Share of all patents (%)", 565),
    "e": ("Share of patents relying on gov. support (%)", 19),
    "f": ("Share of patents relying on gov. support (%)", 566),
}
ylab_fs = float(np.mean([
    fit_size("Number of annually granted patents", "Liberation Sans", 286.7),
    fit_size("Share of all patents (%)", "Liberation Sans", 188.3),
    fit_size("Share of patents relying on gov. support (%)", "Liberation Sans", 355.0),
]))

GEOM = {
    "a": (86.4, 540.8, 62.3, 430.0),
    "b": (612.8, 1086.0, 62.3, 430.0),
    "c": (45.3, 540.8, 531.0, 897.3),
    "d": (607.0, 1086.0, 530.3, 897.3),
    "e": (66.2, 540.8, 997.3, 1364.3),
    "f": (612.8, 1086.0, 997.3, 1364.3),
}
XLIM = {"a": (1826.8, 2029.2), "b": (1856.4, 2027.8), "c": (1826.8, 2029.2),
        "d": (1856.2, 2027.9), "e": (1923.35, 2024.75), "f": (1923.4, 2024.6)}
YLIM = {"a": (-504, 10604), "b": (-47.4, 995.4), "c": (-0.198, 4.155),
        "d": (-0.019, 0.399), "e": (-5.0, 105.3), "f": (-5.0, 105.3)}
XT = {"a": ([1845, 1885, 1925, 1965, 2005], [1825, 1865, 1905, 1945, 1985, 2025]),
      "c": ([1845, 1885, 1925, 1965, 2005], [1825, 1865, 1905, 1945, 1985, 2025]),
      "b": ([1885, 1925, 1965, 2005], [1865, 1905, 1945, 1985, 2025]),
      "d": ([1885, 1925, 1965, 2005], [1865, 1905, 1945, 1985, 2025]),
      "e": ([1925, 1965, 2005], [1945, 1985]),
      "f": ([1925, 1965, 2005], [1945, 1985])}
YT = {"a": ([0, 2500, 5000, 7500, 10000], [1250, 3750, 6250, 8750], ["0", "2500", "5000", "7500", "10000"]),
      "b": ([0, 250, 500, 750], [125, 375, 625, 875], ["0", "250", "500", "750"]),
      "c": ([0, 1, 2, 3, 4], [0.5, 1.5, 2.5, 3.5], ["0", "1", "2", "3", "4"]),
      "d": ([0, 0.1, 0.2, 0.3], [0.05, 0.15, 0.25, 0.35], ["0.0", "0.1", "0.2", "0.3"]),
      "e": ([0, 25, 50, 75, 100], [12.5, 37.5, 62.5, 87.5], ["0", "25", "50", "75", "100"]),
      "f": ([0, 25, 50, 75, 100], [12.5, 37.5, 62.5, 87.5], ["0", "25", "50", "75", "100"])}
# legend: (handle left offset px, first row centre offset px, opaque background)
LEG = {"a": (7.6, 18.7, True), "b": (6.8, 18.7, True), "c": (8.0, 16.7, False),
       "d": (7.5, 17.4, True), "e": (7.0, 18.7, True), "f": (6.8, 18.7, False)}
SERIES = {"a": S_A, "b": S_B, "c": S_C, "d": S_D, "e": S_E, "f": S_F}
HOLLOW = {"a": False, "b": False, "c": False, "d": False, "e": True, "f": True}
DRAW_ORDER = {"f": ["Indirect", "Coastal", "Water", "Infrastructure", "Agriculture", "Health"]}

for key in "abcdef":
    l, r, t, b = GEOM[key]
    ax = fig.add_axes([l / W, 1 - b / H, (r - l) / W, (b - t) / H])
    ax.set_facecolor("white")
    ax.set_xlim(*XLIM[key])
    ax.set_ylim(*YLIM[key])
    ax.set_xticks(XT[key][0])
    ax.set_xticks(XT[key][1], minor=True)
    ax.set_xticklabels([str(v) for v in XT[key][0]])
    ax.set_yticks(YT[key][0])
    ax.set_yticks(YT[key][1], minor=True)
    ax.set_yticklabels(YT[key][2])
    ax.grid(which="major", color="#EBEBEB", lw=1.1)
    ax.grid(which="minor", color="#EBEBEB", lw=0.55)
    ax.set_axisbelow(True)
    for sp in ax.spines.values():
        sp.set_color("#333333")
        sp.set_linewidth(0.9)
    ax.tick_params(which="major", direction="out", length=3.5, width=0.8, color="#333333",
                   labelcolor="#4D4D4D", labelsize=TICK_FS, pad=1.5)
    ax.tick_params(which="minor", length=0)

    series = SERIES[key]
    hollow = HOLLOW[key]
    order = DRAW_ORDER.get(key, [s[0] for s in series])
    lookup = {s[0]: s for s in series}
    for name in order:
        _, x, y = lookup[name]
        ax.plot(x, y, color=COL[name], lw=LW, zorder=2, solid_joinstyle="round", solid_capstyle="round")
    for name in order:
        _, x, y = lookup[name]
        if hollow:
            ax.plot(x, y, ls="none", marker="o", ms=MS_H, mfc="none", mec=COL[name], mew=0.9, zorder=3)
        else:
            ax.plot(x, y, ls="none", marker="o", ms=MS, mfc=COL[name], mec=COL[name], mew=0, zorder=3)

    handles = []
    for name, _, _ in series:
        if hollow:
            h = Line2D([], [], color=COL[name], lw=LW, marker="o", ms=MS_H, mfc="none", mec=COL[name], mew=0.9)
        else:
            h = Line2D([], [], color=COL[name], lw=LW, marker="o", ms=MS, mfc=COL[name], mec=COL[name], mew=0)
        handles.append(h)
    dx, dy, opaque = LEG[key]
    ax_w, ax_h = r - l, b - t
    leg = ax.legend(handles, [s[0] for s in series], loc="upper left",
                    bbox_to_anchor=(dx / ax_w, 1 - (dy - 7.1) / ax_h),
                    frameon=opaque, fontsize=LEG_FS, handlelength=1.0, handletextpad=0.42,
                    labelspacing=0.0, borderpad=0.0, borderaxespad=0.0, facecolor="white",
                    edgecolor="none", framealpha=1.0)
    leg.get_frame().set_linewidth(0)
    leg.set_zorder(5)

    # y label
    txt, xc = YLABELS[key]
    fig.text(xc / W, 1 - ((t + b) / 2) / H, txt, rotation=90, ha="center", va="center",
             fontsize=ylab_fs, color="black")
    # title
    tt, tx, ty, _ = TITLES[key]
    fig.text(tx / W, 1 - ty / H, tt, family="cmr10", fontsize=title_fs, ha="center", va="center",
             color="black")

fig.savefig("out.png", dpi=100, facecolor="white")
